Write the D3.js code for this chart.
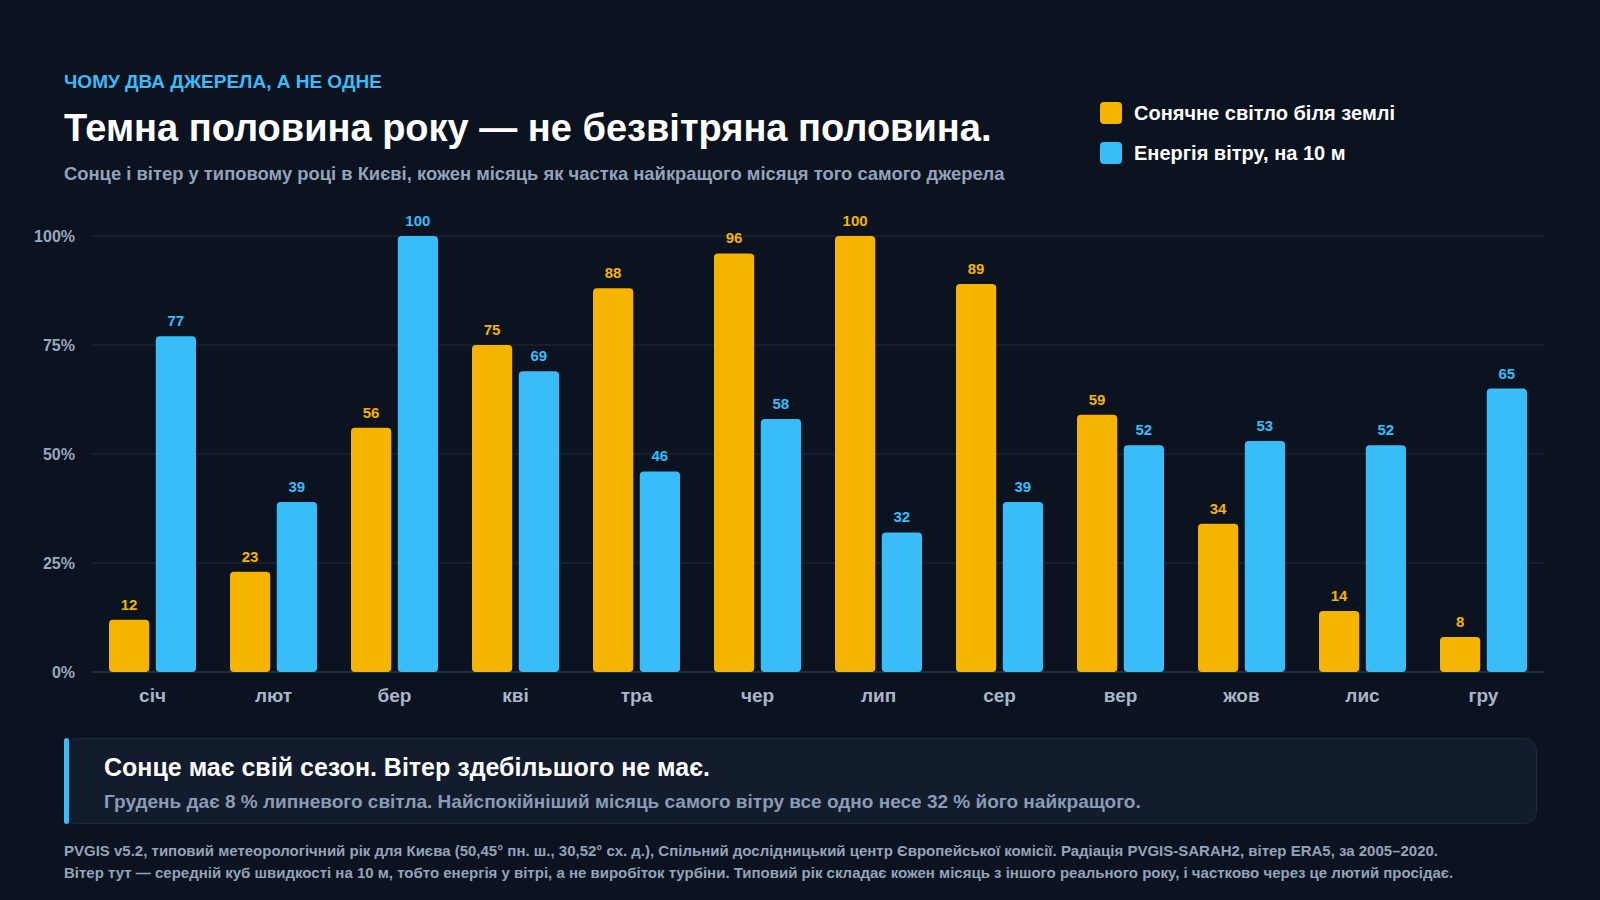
<!DOCTYPE html>
<html lang="uk">
<head>
<meta charset="utf-8">
<title>Сонце і вітер у Києві</title>
<script src="https://cdn.jsdelivr.net/npm/d3@7"></script>
<style>
  html, body { margin: 0; padding: 0; background: #0b1220; }
  body { font-family: "Liberation Sans", Arial, Helvetica, sans-serif; }
  svg text { font-family: "Liberation Sans", Arial, Helvetica, sans-serif; font-weight: 700; }
</style>
</head>
<body>
<div id="chart"></div>
<script>
// data: each month as share of the best month of the same source (%)
const months = ["січ", "лют", "бер", "кві", "тра", "чер", "лип", "сер", "вер", "жов", "лис", "гру"];
const sunValues = [12, 23, 56, 75, 88, 96, 100, 89, 59, 34, 14, 8];
const windValues = [77, 39, 100, 69, 46, 58, 32, 39, 52, 53, 52, 65];
const seriesKeys = ["sun", "wind"];
const seriesNames = ["Сонячне світло біля землі", "Енергія вітру, на 10 м"];
const yTicks = [0, 25, 50, 75, 100];

const colors = { sun: "#f4b400", wind: "#38bdf8" };

const W = 1600, H = 900;
const svg = d3.select("#chart").append("svg")
  .attr("width", W).attr("height", H);

svg.append("rect").attr("width", W).attr("height", H).attr("fill", "#0b1220");

// header
svg.append("text").attr("x", 64).attr("y", 88)
  .attr("font-size", 19).attr("fill", "#38bdf8")
  .text("ЧОМУ ДВА ДЖЕРЕЛА, А НЕ ОДНЕ");
svg.append("text").attr("x", 64).attr("y", 141)
  .attr("font-size", 38).attr("fill", "#ffffff")
  .text("Темна половина року — не безвітряна половина.");
svg.append("text").attr("x", 64).attr("y", 180)
  .attr("font-size", 18.4).attr("fill", "#94a3b8")
  .text("Сонце і вітер у типовому році в Києві, кожен місяць як частка найкращого місяця того самого джерела");

// legend
const legend = svg.append("g").attr("transform", "translate(1100,102)");
seriesKeys.forEach((k, i) => {
  const row = legend.append("g").attr("transform", `translate(0,${i * 40})`);
  row.append("rect").attr("width", 22).attr("height", 22).attr("rx", 4)
    .attr("fill", colors[k]);
  row.append("text").attr("x", 34).attr("y", 18)
    .attr("font-size", 20).attr("fill", "#ffffff")
    .text(seriesNames[i]);
});

// scales
const plotLeft = 92, plotRight = 1544, plotTop = 236, plotBottom = 672;
const x0 = d3.scaleBand().domain(months).range([plotLeft, plotRight]).padding(0);
const x1 = d3.scaleBand().domain(seriesKeys)
  .range([17, x0.bandwidth() - 17]).paddingInner(0.14);
const y = d3.scaleLinear().domain([0, 100]).range([plotBottom, plotTop]);

// grid + y labels
const grid = svg.append("g");
grid.selectAll("line").data(yTicks).enter().append("line")
  .attr("x1", plotLeft).attr("x2", plotRight)
  .attr("y1", d => y(d)).attr("y2", d => y(d))
  .attr("stroke", d => d === 0 ? "#3a4658" : "#1f2a3a")
  .attr("stroke-width", 1);

const yAxis = svg.append("g").attr("transform", `translate(${plotLeft - 14},0)`)
  .call(d3.axisLeft(y).tickValues(yTicks).tickFormat(d => d + "%").tickSize(0));
yAxis.select(".domain").remove();
yAxis.selectAll("text").attr("font-size", 16).attr("fill", "#9aa8bd")
  .attr("dy", "0.35em");

// x labels
const xAxis = svg.append("g").attr("transform", `translate(0,${plotBottom})`)
  .call(d3.axisBottom(x0).tickSize(0).tickPadding(13));
xAxis.select(".domain").remove();
xAxis.selectAll("text").attr("font-size", 19).attr("fill", "#a9b6c9")
  .attr("dy", "0.9em");

// bars
const rows = months.map((m, i) => ({ month: m, sun: sunValues[i], wind: windValues[i] }));
const groups = svg.selectAll(".month").data(rows).enter().append("g")
  .attr("class", "month")
  .attr("transform", d => `translate(${x0(d.month)},0)`);

const cells = groups.selectAll("g").data(d => seriesKeys.map(k => ({ key: k, value: d[k] })))
  .enter().append("g");

cells.append("rect")
  .attr("x", d => x1(d.key))
  .attr("width", x1.bandwidth())
  .attr("y", d => y(d.value))
  .attr("height", d => y(0) - y(d.value))
  .attr("rx", 4)
  .attr("fill", d => colors[d.key]);

cells.append("text")
  .attr("x", d => x1(d.key) + x1.bandwidth() / 2)
  .attr("y", d => y(d.value) - 10)
  .attr("text-anchor", "middle")
  .attr("font-size", 15)
  .attr("fill", d => colors[d.key])
  .text(d => d.value);

// callout box
const box = svg.append("g").attr("transform", "translate(64,738)");
box.append("rect").attr("x", 0.5).attr("y", 0.5).attr("width", 1472).attr("height", 85)
  .attr("rx", 12).attr("fill", "#121c2d").attr("stroke", "#1f2b3e");
box.append("rect").attr("x", 0).attr("y", 0).attr("width", 5).attr("height", 86)
  .attr("rx", 2.5).attr("fill", "#38bdf8");
box.append("text").attr("x", 40).attr("y", 38)
  .attr("font-size", 25).attr("fill", "#ffffff")
  .text("Сонце має свій сезон. Вітер здебільшого не має.");
box.append("text").attr("x", 40).attr("y", 70)
  .attr("font-size", 19).attr("fill", "#8b9bb4")
  .text("Грудень дає 8 % липневого світла. Найспокійніший місяць самого вітру все одно несе 32 % його найкращого.");

// footnote
svg.append("text").attr("x", 64).attr("y", 856)
  .attr("font-size", 15).attr("fill", "#94a3b8")
  .text("PVGIS v5.2, типовий метеорологічний рік для Києва (50,45° пн. ш., 30,52° сх. д.), Спільний дослідницький центр Європейської комісії. Радіація PVGIS-SARAH2, вітер ERA5, за 2005–2020.");
svg.append("text").attr("x", 64).attr("y", 878)
  .attr("font-size", 15).attr("fill", "#94a3b8")
  .text("Вітер тут — середній куб швидкості на 10 м, тобто енергія у вітрі, а не виробіток турбіни. Типовий рік складає кожен місяць з іншого реального року, і частково через це лютий просідає.");
</script>
</body>
</html>
